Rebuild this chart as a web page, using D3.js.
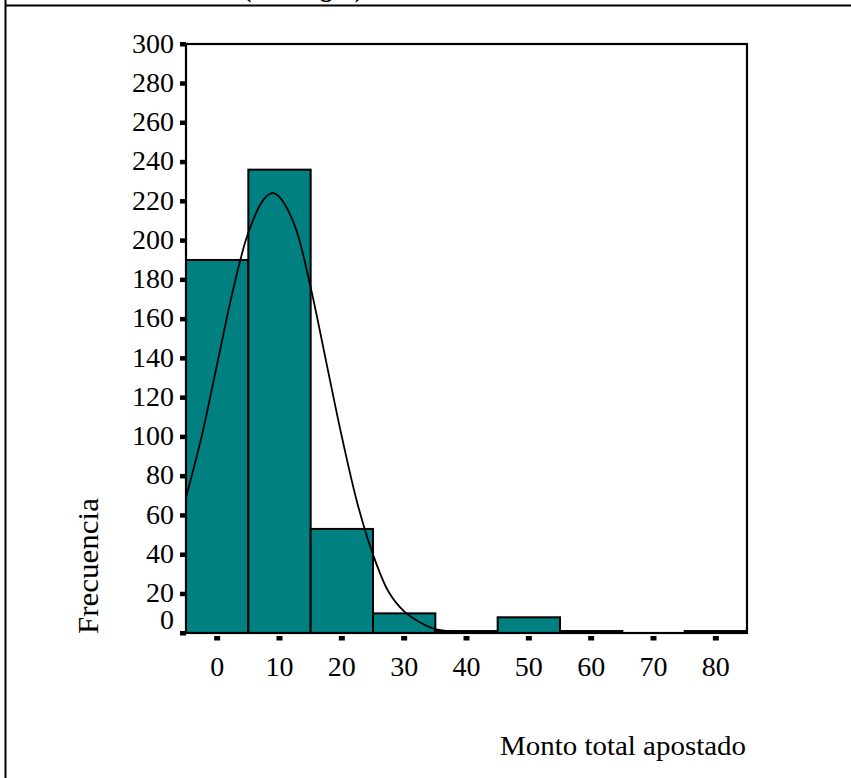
<!DOCTYPE html>
<html>
<head>
<meta charset="utf-8">
<script src="https://cdn.jsdelivr.net/npm/d3@7"></script>
<style>
  body { margin: 0; background: white; }
  text { font-family: "Liberation Serif", "Times New Roman", serif; fill: black; }
</style>
</head>
<body>
<div id="histogram"></div>
<script>
var binCenters = [0, 10, 20, 30, 40, 50, 60, 70, 80]
var counts = [190, 236, 53, 10, 1, 8, 1, 0, 1]
var yTicks = [0, 20, 40, 60, 80, 100, 120, 140, 160, 180, 200, 220, 240, 260, 280, 300]
var xTicks = [0, 10, 20, 30, 40, 50, 60, 70, 80]
var curveX = [-5, -2.5, 0, 2.5, 5, 7.5, 8.9, 10, 12.5, 15, 17.5, 20, 22.5, 25, 27.5, 30, 32.5, 35, 37.5, 40, 42.5, 45]
var curveY = [69, 100, 137, 174, 204, 221, 224, 222, 207, 176, 138, 100, 66, 40, 21, 11, 5.5, 2, 0.8, 0.3, 0.1, 0]
var binWidth = 10

var svg = d3.select("#histogram").append("svg")
  .attr("width", 851)
  .attr("height", 778)

var x = d3.scaleLinear()
  .domain([-5, 85])
  .range([186, 747])

var y = d3.scaleLinear()
  .domain([0, 300])
  .range([633, 44])

// page frame
svg.append("line")
  .attr("x1", 5.5).attr("x2", 5.5)
  .attr("y1", 0).attr("y2", 778)
  .attr("stroke", "black").attr("stroke-width", 2)

svg.append("line")
  .attr("x1", 5).attr("x2", 851)
  .attr("y1", 5.5).attr("y2", 5.5)
  .attr("stroke", "black").attr("stroke-width", 2)

svg.append("text")
  .text("(en rangos)")
  .attr("x", 243)
  .attr("y", -3)
  .attr("font-size", 26)
  .attr("font-weight", "bold")
  .attr("textLength", 120)
  .attr("lengthAdjust", "spacingAndGlyphs")

var bars = binCenters.map((c, i) => ({ center: c, count: counts[i] })).filter(d => d.count > 0)

svg.selectAll("bars")
  .data(bars)
  .enter()
  .append("rect")
  .attr("x", d => x(d.center - binWidth / 2))
  .attr("width", d => x(d.center + binWidth / 2) - x(d.center - binWidth / 2))
  .attr("y", d => y(d.count))
  .attr("height", d => y(0) - y(d.count))
  .attr("fill", "#008080")
  .attr("stroke", "black")
  .attr("stroke-width", 2)

var curve = curveX.map((v, i) => [v, curveY[i]])

svg.append("path")
  .datum(curve)
  .attr("d", d3.line().x(d => x(d[0])).y(d => y(d[1])).curve(d3.curveCatmullRom))
  .attr("fill", "none")
  .attr("stroke", "black")
  .attr("stroke-width", 1.8)

svg.append("rect")
  .attr("x", x(-5))
  .attr("y", y(300))
  .attr("width", x(85) - x(-5))
  .attr("height", y(0) - y(300))
  .attr("fill", "none")
  .attr("stroke", "black")
  .attr("stroke-width", 2.2)

// y ticks
svg.selectAll("yticks")
  .data(yTicks)
  .enter()
  .append("rect")
  .attr("x", x(-5) - 6)
  .attr("y", d => y(d) - 2)
  .attr("width", 6)
  .attr("height", 4.5)
  .attr("fill", "black")

svg.selectAll("ylabels")
  .data(yTicks)
  .enter()
  .append("text")
  .text(d => d)
  .attr("x", 174)
  .attr("y", d => d == 0 ? y(d) - 4 : y(d) + 8.5)
  .attr("text-anchor", "end")
  .attr("font-size", 28)
  .attr("textLength", d => String(d).length * 14)
  .attr("lengthAdjust", "spacingAndGlyphs")

// x ticks
svg.selectAll("xticks")
  .data(xTicks)
  .enter()
  .append("rect")
  .attr("x", d => x(d) - 3)
  .attr("y", 636)
  .attr("width", 6)
  .attr("height", 4.5)
  .attr("fill", "black")

svg.selectAll("xlabels")
  .data(xTicks)
  .enter()
  .append("text")
  .text(d => d)
  .attr("x", d => x(d))
  .attr("y", 676)
  .attr("text-anchor", "middle")
  .attr("font-size", 28)
  .attr("textLength", d => String(d).length * 14)
  .attr("lengthAdjust", "spacingAndGlyphs")

svg.append("text")
  .text("Monto total apostado")
  .attr("x", 746)
  .attr("y", 755)
  .attr("text-anchor", "end")
  .attr("font-size", 28)
  .attr("textLength", 246)
  .attr("lengthAdjust", "spacingAndGlyphs")

svg.append("text")
  .text("Frecuencia")
  .attr("transform", "translate(98,634) rotate(-90)")
  .attr("x", 0)
  .attr("y", 0)
  .attr("text-anchor", "start")
  .attr("font-size", 29)
  .attr("textLength", 136)
  .attr("lengthAdjust", "spacingAndGlyphs")
</script>
</body>
</html>
